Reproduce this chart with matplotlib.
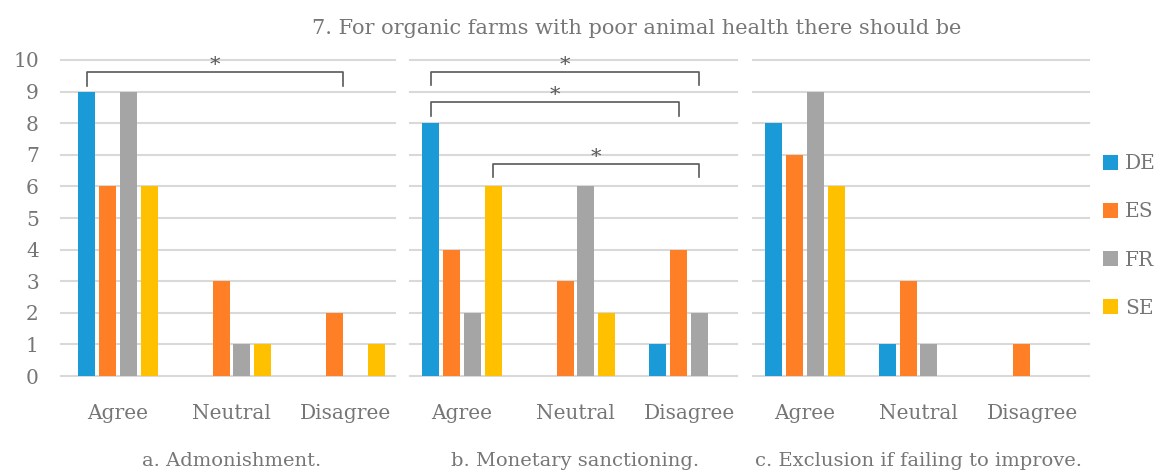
import numpy as np
import matplotlib.pyplot as plt

# data
categories = ['Agree', 'Neutral', 'Disagree']
countries = ['DE', 'ES', 'FR', 'SE']
colors = ['#1a9ad6', '#fe7f26', '#a5a5a5', '#ffc000']

panel_titles = ['a. Admonishment.', 'b. Monetary sanctioning.',
                'c. Exclusion if failing to improve.']

admonishment = {'DE': [9, 0, 0], 'ES': [6, 3, 2], 'FR': [9, 1, 0], 'SE': [6, 1, 1]}
monetary = {'DE': [8, 0, 1], 'ES': [4, 3, 4], 'FR': [2, 6, 2], 'SE': [6, 2, 0]}
exclusion = {'DE': [8, 1, 0], 'ES': [7, 3, 1], 'FR': [9, 1, 0], 'SE': [6, 0, 0]}
panels = [admonishment, monetary, exclusion]

# significance brackets: (panel, x start, x end, top, bottom)
brackets = [(0, -0.27, 1.98, 9.62, 9.18),
            (1, -0.27, 2.09, 9.62, 9.20),
            (1, -0.27, 1.91, 8.67, 8.24),
            (1, 0.27, 2.09, 6.71, 6.30)]

title = '7. For organic farms with poor animal health there should be'

txt = '#767676'
grid = '#d9d9d9'
plt.rcParams['font.family'] = ['DejaVu Serif']

W, H = 1158, 473
fig = plt.figure(figsize=(W / 100, H / 100), dpi=100)

lefts = [61, 405, 748]
grid_span = [(0.0, 0.98), (0.015, 0.975), (0.015, 1.0)]
aw = 341
bottom, top = 376, 60
step, width = 0.183, 0.15
x = np.arange(len(categories))

axes = []
for i, (data, left) in enumerate(zip(panels, lefts)):
    ax = fig.add_axes([left / W, 1 - bottom / H, aw / W, (bottom - top) / H])
    for j, c in enumerate(countries):
        ax.bar(x + (j - 1.5) * step, data[c], width, color=colors[j], label=c, zorder=3)
    ax.set_xlim(-0.5, 2.5)
    ax.set_ylim(0, 10)
    ax.set_yticks(range(0, 11))
    for t in range(0, 11):
        ax.axhline(t, *grid_span[i], color=grid, linewidth=1.5, zorder=0, clip_on=False)
    for s in ax.spines.values():
        s.set_visible(False)
    ax.set_xticks(x)
    ax.set_xticklabels(categories)
    ax.tick_params(axis='x', length=0, pad=20, labelsize=14.5, labelcolor=txt)
    ax.tick_params(axis='y', length=0, pad=16, labelsize=14.5, labelcolor=txt)
    if i > 0:
        ax.tick_params(axis='y', labelleft=False)
    fig.text((left + aw / 2) / W, 1 - 461 / H, panel_titles[i], ha='center',
             va='center', fontsize=14, color=txt)
    axes.append(ax)

for p, x0, x1, yt, yb in brackets:
    ax = axes[p]
    ax.plot([x0, x0, x1, x1], [yb, yt, yt, yb], color='#595959', linewidth=1.2,
            zorder=4, clip_on=False)
    ax.text((x0 + x1) / 2, yt - 0.1, '*', ha='center', va='bottom',
            fontsize=15, color='#595959', clip_on=False)

fig.text(637 / W, 1 - 29 / H, title, ha='center', va='center', fontsize=15, color=txt)

handles, labels = axes[0].get_legend_handles_labels()
fig.legend(handles, labels, loc='center left', bbox_to_anchor=(1103 / W, 1 - 236 / H),
           frameon=False, fontsize=14.5, labelcolor=txt, handlelength=0.75,
           handleheight=0.75, handletextpad=0.35, labelspacing=1.45,
           borderpad=0, borderaxespad=0)

fig.savefig('out.png', dpi=100)
